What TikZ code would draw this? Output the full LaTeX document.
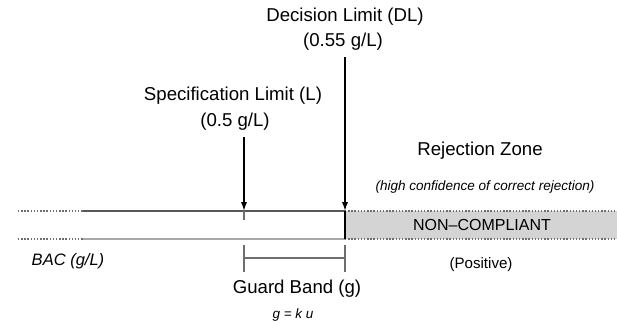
\documentclass[tikz,border=0pt]{standalone}
\usepackage{fontspec}
\setmainfont{Liberation Sans}
\usetikzlibrary{arrows.meta}
\definecolor{zonegray}{RGB}{212,212,212}
\definecolor{linegray}{RGB}{110,110,110}
\begin{document}
\begin{tikzpicture}[x=0.02cm,y=-0.02cm,
  lbl/.style={font=\fontsize{10.6}{12}\selectfont},
  note/.style={font=\fontsize{7.7}{9}\selectfont\itshape},
  dots/.style={linegray,line width=1.3pt,dash pattern=on 0.8pt off 1pt},
  limit/.style={line width=0.9pt,-{Latex[length=5pt,width=3.5pt]}},
  guard/.style={linegray,line width=0.8pt}]
\useasboundingbox (0,0) rectangle (617,323);
\fill[zonegray] (345,211) rectangle (617,239);
\draw[dots] (18,211) -- (83,211);
\draw[dots] (18,239) -- (83,239);
\draw[dots] (345,211) -- (617,211);
\draw[dots] (345,239) -- (617,239);
\draw[linegray!80!black,line width=1.2pt] (83,211) -- (345,211);
\draw[linegray!60,line width=1pt] (83,239) -- (345,239);
\coordinate (L) at (244,211);
\coordinate (DL) at (345,211);
\coordinate (Ltick) at (244,220);
\coordinate (DLbot) at (345,239);
\node[lbl] (dl) at (345,17) {Decision Limit (DL)};
\node[lbl] (dlval) at (343,42) {(0.55 g/L)};
\node[lbl] (sl) at (233,96) {Specification Limit (L)};
\node[lbl] (slval) at (235,122) {(0.5 g/L)};
\draw[limit] (DL |- dlval.south) -- (DL);
\draw[line width=0.9pt] (DL) -- (DLbot);
\draw[limit] (L |- slval.south) -- (L);
\draw[guard] (L) -- (Ltick);
\node[lbl] (rej) at (480,151) {Rejection Zone};
\node[note] (conf) at (485,187) {(high confidence of correct rejection)};
\node[font=\fontsize{9.1}{11}\selectfont] (nc) at (482,225) {NON--COMPLIANT};
\node[font=\fontsize{8.6}{10}\selectfont] (pos) at (481,265) {(Positive)};
\node[font=\fontsize{9.4}{11}\selectfont\itshape] (bac) at (68,261) {BAC (g/L)};
\coordinate (gl) at (244,258);
\coordinate (gr) at (345,258);
\draw[guard] (gl) -- (gr);
\draw[guard] (gl) ++(0,-13) -- ++(0,27);
\draw[guard] (gr) ++(0,-13) -- ++(0,27);
\node[lbl] (gb) at (297,289) {Guard Band (g)};
\node[note] (gform) at (293,315) {g = k u};
\end{tikzpicture}
\end{document}
